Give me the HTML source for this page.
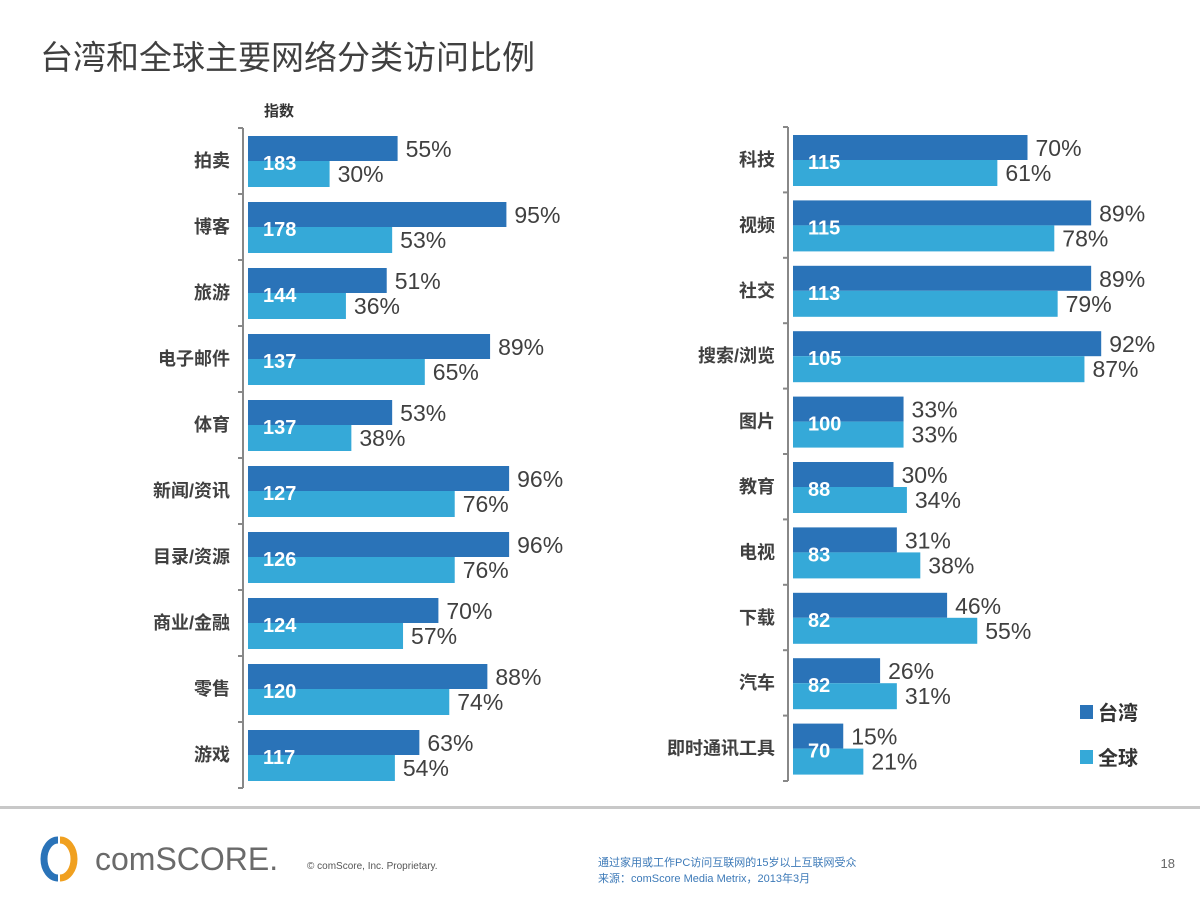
<!DOCTYPE html>
<html><head><meta charset="utf-8"><style>
body{margin:0;background:#fff;width:1200px;height:900px;overflow:hidden;font-family:"Liberation Sans","Noto Sans CJK SC",sans-serif}
</style></head><body>
<svg id="s" width="1200" height="900" xmlns="http://www.w3.org/2000/svg" style="font-family:'Liberation Sans','Noto Sans CJK SC',sans-serif">
<text x="40" y="69" font-size="33" fill="#404040">台湾和全球主要网络分类访问比例</text>
<text x="264" y="116" font-size="15" font-weight="bold" fill="#333">指数</text>
<rect x="0" y="806" width="1200" height="3" fill="#c8c8c8"/>
<g>
<path d="M58 840 a14 19 0 0 0 0 38" stroke="#2a73b8" stroke-width="7" fill="none"/>
<path d="M60 840 a14 19 0 0 1 0 38" stroke="#f0a020" stroke-width="7" fill="none"/>
<text x="95" y="870" font-size="32" fill="#6a6a6a">comSCORE.</text>
</g>
<text x="307" y="869" font-size="10" fill="#555">© comScore, Inc.    Proprietary.</text>
<text x="598" y="866" font-size="11" fill="#3d7ab8">通过家用或工作PC访问互联网的15岁以上互联网受众</text>
<text x="598" y="882" font-size="11" fill="#3d7ab8">来源：comScore Media Metrix，2013年3月</text>
<text x="1175" y="868" font-size="13" fill="#666" text-anchor="end">18</text>
<rect x="1080" y="705" width="13" height="14" fill="#2a73b8"/>
<text x="1098" y="720" font-size="20" font-weight="bold" fill="#333">台湾</text>
<rect x="1080" y="750" width="13" height="14" fill="#35a9d8"/>
<text x="1098" y="765" font-size="20" font-weight="bold" fill="#333">全球</text>
</svg>
<script>
const leftCats=["拍卖","博客","旅游","电子邮件","体育","新闻/资讯","目录/资源","商业/金融","零售","游戏"];
const leftTW=[55,95,51,89,53,96,96,70,88,63];
const leftGL=[30,53,36,65,38,76,76,57,74,54];
const leftIdx=[183,178,144,137,137,127,126,124,120,117];
const rightCats=["科技","视频","社交","搜索/浏览","图片","教育","电视","下载","汽车","即时通讯工具"];
const rightTW=[70,89,89,92,33,30,31,46,26,15];
const rightGL=[61,78,79,87,33,34,38,55,31,21];
const rightIdx=[115,115,113,105,100,88,83,82,82,70];
const NS="http://www.w3.org/2000/svg";
const svg=document.getElementById('s');
function mk(tag,attrs,txt){const e=document.createElementNS(NS,tag);for(const k in attrs)e.setAttribute(k,attrs[k]);if(txt!==undefined)e.textContent=txt;svg.appendChild(e);return e;}
function panel(cats,tw,gl,idx,x0,y0,step,ppp,side){
  const xs=v=>x0+v*ppp;
  const yTop=y0-8, yBot=y0+step*cats.length-8;
  let a=mk('line',{x1:x0-5,y1:yTop,x2:x0-5,y2:yBot,stroke:'#888','stroke-width':2});
  
  
  for(let i=0;i<=cats.length;i++){
    let t=mk('line',{x1:x0-10,y1:yTop+i*step,x2:x0-5,y2:yTop+i*step,stroke:'#888','stroke-width':2});
    
    
  }
  cats.forEach((c,i)=>{
    const y=y0+i*step;
    let b1=mk('rect',{x:x0,y:y,width:xs(tw[i])-x0,height:25,fill:'#2a73b8'});
    
    
    let b2=mk('rect',{x:x0,y:y+25,width:xs(gl[i])-x0,height:26,fill:'#35a9d8'});
    
    
    let l1=mk('text',{x:xs(tw[i])+8,y:y+21,'font-size':23,fill:'#404040'},tw[i]+'%');
    
    
    let l2=mk('text',{x:xs(gl[i])+8,y:y+46,'font-size':23,fill:'#404040'},gl[i]+'%');
    
    
    let ix=mk('text',{x:x0+15,y:y+34,'font-size':20,'font-weight':'bold',fill:'#fff'},idx[i]);
    
    
    let cl=mk('text',{x:x0-18,y:y+31,'font-size':18,'font-weight':'bold',fill:'#404040','text-anchor':'end'},c);
    
    
  });
}
panel(leftCats,leftTW,leftGL,leftIdx,248,136,66,2.72,'left');
panel(rightCats,rightTW,rightGL,rightIdx,793,135,65.4,3.35,'right');
</script>
</body></html>
